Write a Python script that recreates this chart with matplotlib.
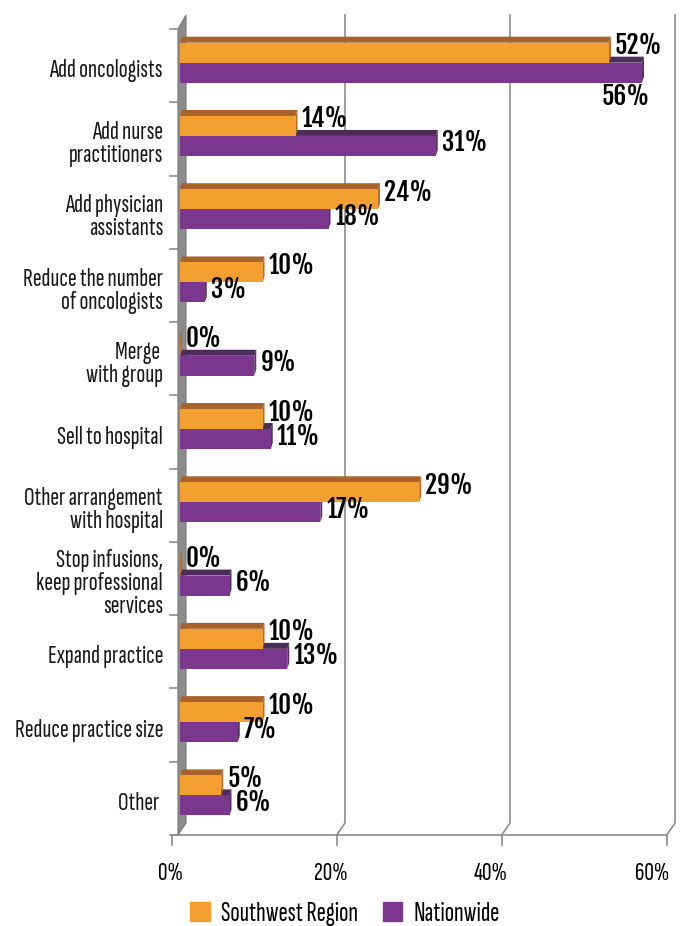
import numpy as np
import matplotlib.pyplot as plt
from matplotlib.patches import Polygon, Patch

plt.rcParams['font.family'] = ['Sofia Sans Extra Condensed', 'DejaVu Sans']
BOLD = ['Fjalla One', 'DejaVu Sans']

# data
categories = ['Add oncologists', 'Add nurse\npractitioners', 'Add physician\nassistants',
              'Reduce the number\nof oncologists', 'Merge \nwith group', 'Sell to hospital',
              'Other arrangement\nwith hospital', 'Stop infusions,\nkeep professional\nservices',
              'Expand practice', 'Reduce practice size', 'Other ']
southwest = [52, 14, 24, 10, 0, 10, 29, 0, 10, 10, 5]
nationwide = [56, 31, 18, 3, 9, 11, 17, 6, 13, 7, 6]
xticks = [0, 20, 40, 60]

c_or, c_or_top, c_or_side = '#F4A031', '#A8632A', '#B86E2A'
c_pu, c_pu_top, c_pu_side = '#7B378D', '#4D2C5C', '#5A3068'
grey = '#8C8C8C'

fig = plt.figure(figsize=(6.8, 9.26), dpi=100)
ax = fig.add_axes([180 / 680, 1 - 835 / 926, 495 / 680, 820 / 926])
ax.set_xlim(0, 60)
ax.set_ylim(10.5, -0.5 - 14 / 73.27)
ax.axis('off')

px = 60 / 495          # data units per pixel, x
py = 1 / 73.27         # data units per pixel, y
h = 20 * py
dx, dy = 2 * px, 6 * py
y = np.arange(len(categories))
yo = y - 0.177
yp = y + 0.096

# left wall
ax.add_patch(Polygon([(-2 * px, -0.5), (6 * px, -0.5 - 14 * py), (6 * px, 10.5 - 12 * py), (-2 * px, 10.5)],
                     closed=True, fc=grey, ec='#7a7a7a', lw=0.8, clip_on=False, zorder=1))

# gridlines (back wall + floor slant) and ticks
for g in xticks:
    if g > 0:
        ax.plot([g, g, g - 1], [-0.5 - 14 * py, 10.5 - 12 * py, 10.5], color=grey, lw=1.2,
                clip_on=False, zorder=0.5)
    ax.plot([g - 1, g - 1], [10.5, 10.5 + 10 * py], color=grey, lw=1.2, clip_on=False)
    ax.text(g - (10 + 0.22 * g) * px, 10.5 + 38 * py, f'{g}%', ha='center', va='center', fontsize=19)
ax.plot([-1, 59], [10.5, 10.5], color=grey, lw=1.2, clip_on=False, zorder=2)

# category ticks on the left
for b in np.arange(-0.5, 11, 1):
    ax.plot([-10 * px, -2 * px], [b, b], color=grey, lw=1.2, clip_on=False)


def faces(v, yc, top, side, z):
    t = yc - h / 2
    ax.add_patch(Polygon([(0, t), (v, t), (v + dx, t - dy), (dx, t - dy)], closed=True,
                         fc=top, ec='none', zorder=z))
    ax.add_patch(Polygon([(v, t), (v + dx, t - dy), (v + dx, t + h - dy), (v, t + h)], closed=True,
                         fc=side, ec='none', zorder=z))


for i in range(len(categories)):
    faces(nationwide[i], yp[i], c_pu_top, c_pu_side, 3)
    faces(southwest[i], yo[i], c_or_top, c_or_side, 5)
ax.barh(yp, nationwide, height=h, color=c_pu, zorder=4)
ax.barh(yo, southwest, height=h, color=c_or, zorder=6)

# value labels
lab = dict(fontsize=18, fontweight='bold', family=BOLD, zorder=8, va='center')
for i in range(len(categories)):
    ax.text(southwest[i] + dx + 4 * px, yo[i] - 7 * py, f'{southwest[i]}%', ha='left', **lab)
    if i == 0:
        ax.text(nationwide[i] + dx + 6 * px, yp[i] + 24 * py, f'{nationwide[i]}%', ha='right', **lab)
    else:
        ax.text(nationwide[i] + dx + 4 * px, yp[i] - 3 * py, f'{nationwide[i]}%', ha='left', **lab)

# category labels
for i, c in enumerate(categories):
    ax.text(-17 * px, i + 0.07, c, ha='right', va='center', fontsize=19, linespacing=1.0,
            color='#1a1a1a')

handles = [Patch(color=c_or, label='Southwest Region'), Patch(color=c_pu, label='Nationwide')]
fig.legend(handles=handles, loc='center', bbox_to_anchor=(345 / 680, 1 - 914 / 926), ncol=2,
           frameon=False, fontsize=20, handlelength=0.7, handleheight=0.7, handletextpad=0.4,
           columnspacing=0.9)

fig.savefig('out.png', dpi=100)
